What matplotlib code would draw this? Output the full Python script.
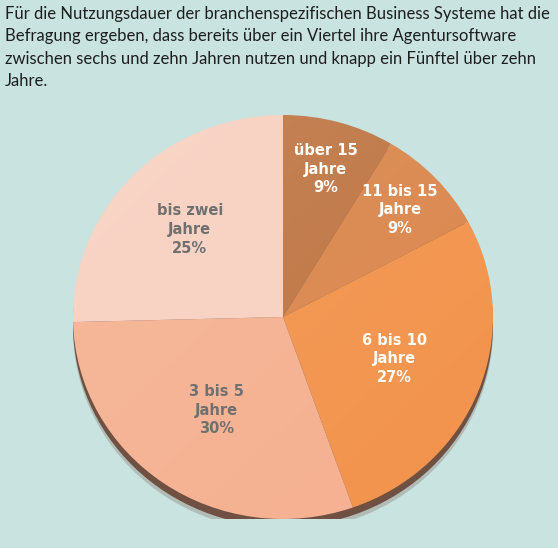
import numpy as np
import matplotlib
matplotlib.use("Agg")
import matplotlib.pyplot as plt
from matplotlib.patches import Ellipse, Circle

# Daten: Nutzungsdauer der Business Systeme (im Uhrzeigersinn ab 12 Uhr)
kategorien = ["über 15\nJahre", "11 bis 15\nJahre", "6 bis 10\nJahre", "3 bis 5\nJahre", "bis zwei\nJahre"]
anteile = [8.6, 8.6, 27.4, 30.0, 25.4]

farben = ["#bf7644", "#da874d", "#f2944d", "#f5b191", "#f8d0c0"]
textfarben = ["white", "white", "white", "#707070", "#707070"]
label_radius = [0.76, 0.77, 0.57, 0.56, 0.62]

bg = "#c8e3e0"
titel = ("Für die Nutzungsdauer der branchenspezifischen Business Systeme hat die\n"
         "Befragung ergeben, dass bereits über ein Viertel ihre Agentursoftware\n"
         "zwischen sechs und zehn Jahren nutzen und knapp ein Fünftel über zehn\n"
         "Jahre.")

fig = plt.figure(figsize=(5.58, 5.48), dpi=100)
fig.patch.set_facecolor(bg)

fig.text(5 / 558, 1 - 6 / 548, titel, ha="left", va="top", fontsize=12,
         family="Lato", color="#1e1e1e", linespacing=1.5)

ax = fig.add_axes([73 / 558, 29 / 548, 420 / 558, 404 / 548])
ax.set_facecolor("none")

# Rand / Schatten unter dem Kreis
ax.add_patch(Ellipse((0, -0.06), 2.0, 2.0, color="#6e4a3a", alpha=0.25, zorder=0, lw=0))
ax.add_patch(Ellipse((0, -0.038), 2.0, 2.0, color="#6f5042", zorder=0, lw=0))

wedges, _ = ax.pie(anteile, colors=farben, startangle=90, counterclock=False,
                   radius=1.0, wedgeprops=dict(linewidth=0))
for w in wedges:
    w.set_zorder(2)

# leichter Glanz von oben links
yy, xx = np.mgrid[1:-1:200j, -1:1:200j]
glanz = np.clip((yy - xx) / 2.8 + 0.5, 0, 1)
rgba = np.ones((200, 200, 4))
rgba[..., 3] = 0.09 * glanz
img = ax.imshow(rgba, extent=(-1, 1, -1, 1), zorder=2.5, aspect="auto")
img.set_clip_path(Circle((0, 0), 1.0, transform=ax.transData))

for w, lab, wert, tc, r in zip(wedges, kategorien, anteile, textfarben, label_radius):
    mid = np.deg2rad((w.theta1 + w.theta2) / 2)
    ax.text(r * np.cos(mid), r * np.sin(mid), "%s\n%.0f%%" % (lab, wert),
            ha="center", va="center", fontsize=10.5, fontweight="bold",
            color=tc, linespacing=1.3, zorder=3)

ax.set_xlim(-1, 1)
ax.set_ylim(-1, 1)
ax.set_aspect("auto")
ax.axis("off")

fig.savefig("out.png", dpi=100, facecolor=bg)
